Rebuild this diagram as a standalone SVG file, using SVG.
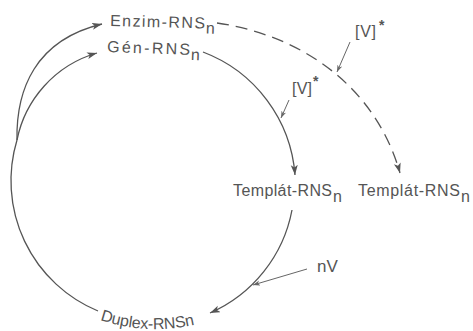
<svg xmlns="http://www.w3.org/2000/svg" width="473" height="331" viewBox="0 0 473 331">
<style>
.ln{fill:none;stroke:#555;stroke-width:1.3}
.ds{stroke-dasharray:12 7}
.pt{fill:none;stroke:#666;stroke-width:1}
text{font-family:"Liberation Sans",Arial,sans-serif;fill:#555;font-size:16px}
.st{font-size:14px;font-weight:bold}
</style>
<defs>
<marker id="ah" markerUnits="userSpaceOnUse" markerWidth="11" markerHeight="8" refX="10" refY="3.5" orient="auto">
<path d="M0,0 L10,3.5 L0,7 L2.5,3.5 z" fill="#555"/>
</marker>
<marker id="sh" markerUnits="userSpaceOnUse" markerWidth="8" markerHeight="6" refX="7" refY="2.5" orient="auto">
<path d="M0,0 L7,2.5 L0,5 L2,2.5 z" fill="#666"/>
</marker>
<path id="dupPath" d="M100,320 A175,175 0 0 0 205,322"/>
</defs>
<g id="connectors">
<path class="ln" d="M17,140 A141,141 0 0 0 98,311"/>
<path class="ln" d="M17,140 C16,90 35,40 102,24" marker-end="url(#ah)"/>
<path class="ln" d="M17,140 C25,100 55,65 97,53" marker-end="url(#ah)"/>
<path class="ln" d="M203,52 A143,143 0 0 1 295,175" marker-end="url(#ah)"/>
<path class="ln ds" d="M217,23 C300,35 375,85 400,173" marker-end="url(#ah)"/>
<path class="ln" d="M292,210 A141,141 0 0 1 210,313" marker-end="url(#ah)"/>
<path class="pt" d="M307,269 L253,285" marker-end="url(#sh)"/>
<path class="pt" d="M350,42 L337,72" marker-end="url(#sh)"/>
<path class="pt" d="M289,100 L281,118" marker-end="url(#sh)"/>
</g>
<g id="enzim" transform="rotate(1.5 110 26)">
<text x="110" y="26" textLength="95">Enzim-RNS</text>
<text x="206" y="31">n</text>
</g>
<g id="gen" transform="rotate(2 107 52)">
<text x="107" y="52" textLength="83">Gén-RNS</text>
<text x="191" y="57">n</text>
</g>
<g id="templat1">
<text x="233" y="196" textLength="99">Templát-RNS</text>
<text x="333" y="202">n</text>
</g>
<g id="templat2">
<text x="358" y="196" textLength="102">Templát-RNS</text>
<text x="461" y="202">n</text>
</g>
<g id="duplex">
<text textLength="96"><textPath href="#dupPath">Duplex-RNSn</textPath></text>
</g>
<g id="v1">
<text x="355" y="37" textLength="21">[V]</text>
<text class="st" x="379" y="30">*</text>
</g>
<g id="v2">
<text x="292" y="94" textLength="20">[V]</text>
<text class="st" x="313" y="86">*</text>
</g>
<g id="nv">
<text x="317" y="272" style="font-size:17px">nV</text>
</g>
</svg>
